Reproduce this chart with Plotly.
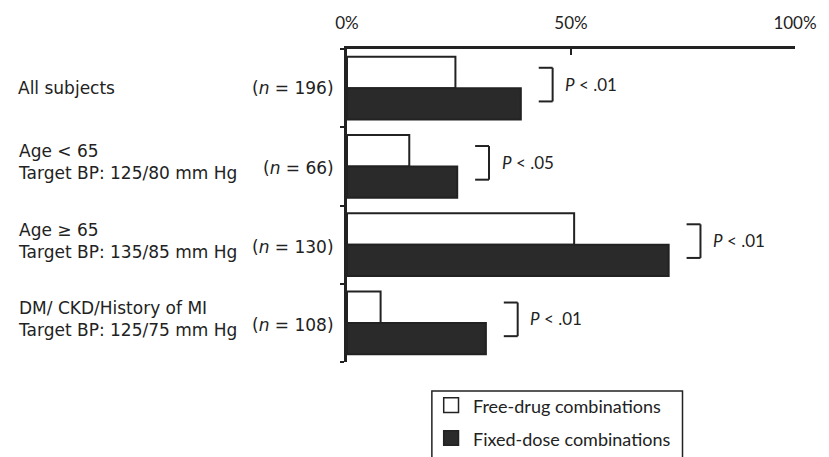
import plotly.graph_objects as go

# ---- data ----
groups = ["All subjects",
          "Age < 65<br>Target BP: 125/80 mm Hg",
          "Age ≥ 65<br>Target BP: 135/85 mm Hg",
          "DM/ CKD/History of MI<br>Target BP: 125/75 mm Hg"]
n_sizes = [196, 66, 130, 108]
free_drug = [24.2, 13.9, 50.7, 7.5]
fixed_dose = [38.8, 24.6, 71.8, 31.0]
p_values = ["P < .01", "P < .05", "P < .01", "P < .01"]
x_tickvals = [0, 50, 100]
x_ticktext = ["0%", "50%", "100%"]
series_names = ["Free-drug combinations", "Fixed-dose combinations"]

ypos = list(range(len(groups)))
INK = "#222222"
LEFT_FONT = "DejaVu Sans"
RIGHT_FONT = "Lato"

fig = go.Figure()
fig.add_trace(go.Bar(y=ypos, x=free_drug, orientation="h", name=series_names[0],
                     marker=dict(color="white", line=dict(color=INK, width=2)),
                     showlegend=False))
fig.add_trace(go.Bar(y=ypos, x=fixed_dose, orientation="h", name=series_names[1],
                     marker=dict(color="#2a2a2a", line=dict(color=INK, width=2)),
                     showlegend=False))

shapes = []
annotations = []
L, PW, T, PH = 347, 454, 39, 323


def px_x(x):
    return (x - L) / PW


def px_y(y):
    return (T + PH - y) / PH


for i, g in enumerate(groups):
    multi = "<br>" in g
    annotations.append(dict(x=px_x(12), xref="paper", y=i, yref="y", text=g,
                            xanchor="left", yanchor="middle", align="left",
                            showarrow=False, yshift=4 if multi else 0,
                            font=dict(family=LEFT_FONT, size=17, color=INK)))
    annotations.append(dict(x=px_x(336), xref="paper", y=i, yref="y",
                            text=f"(<i>n</i> = {n_sizes[i]})",
                            xanchor="right", yanchor="middle", showarrow=False,
                            yshift=-2 if multi else 0,
                            font=dict(family=LEFT_FONT, size=17, color=INK)))
    m = max(free_drug[i], fixed_dose[i])
    x0 = m + 4.0
    x1 = x0 + 3.1
    y0 = i - 0.26
    y1 = i + 0.17
    for (a, b, c, d) in [(x0, y0, x1, y0), (x1, y0, x1, y1), (x0, y1, x1, y1)]:
        shapes.append(dict(type="line", xref="x", yref="y", x0=a, y0=b, x1=c, y1=d,
                           line=dict(color=INK, width=2)))
    pv = p_values[i].replace("P", "<i>P</i>", 1)
    annotations.append(dict(x=x1 + 2.4, xref="x", y=i - 0.05, yref="y", text=pv,
                            xanchor="left", yanchor="middle", showarrow=False,
                            font=dict(family=RIGHT_FONT, size=17, color=INK)))

# legend box (manual)
shapes.append(dict(type="rect", xref="paper", yref="paper",
                   x0=px_x(433), x1=px_x(687), y0=px_y(392), y1=px_y(480),
                   line=dict(color=INK, width=1.5), fillcolor="rgba(0,0,0,0)"))
shapes.append(dict(type="rect", xref="paper", yref="paper",
                   x0=px_x(445), x1=px_x(460), y0=px_y(399), y1=px_y(414),
                   line=dict(color=INK, width=1.5), fillcolor="white"))
shapes.append(dict(type="rect", xref="paper", yref="paper",
                   x0=px_x(445), x1=px_x(460), y0=px_y(433), y1=px_y(448),
                   line=dict(color=INK, width=1.5), fillcolor="#2a2a2a"))
for name, yc in zip(series_names, [407, 441]):
    annotations.append(dict(x=px_x(473), xref="paper", y=px_y(yc), yref="paper",
                            text=name, xanchor="left", yanchor="middle",
                            showarrow=False,
                            font=dict(family=RIGHT_FONT, size=18, color=INK)))

fig.update_layout(
    width=829, height=457,
    margin=dict(l=L, r=829 - L - PW, t=T, b=457 - T - PH),
    paper_bgcolor="white", plot_bgcolor="white",
    barmode="group", bargap=0.2, bargroupgap=0,
    shapes=shapes, annotations=annotations,
    xaxis=dict(side="top", range=[0, 100], tickvals=x_tickvals, ticktext=x_ticktext,
               ticks="inside", ticklen=6, tickwidth=2, tickcolor=INK,
               showline=True, linewidth=2.5, linecolor=INK, showgrid=False,
               zeroline=False, ticklabelstandoff=10,
               tickfont=dict(family=RIGHT_FONT, size=17, color=INK)),
    yaxis=dict(range=[3.5, -0.5], tickvals=[-0.5, 0.5, 1.5, 2.5, 3.5],
               showticklabels=False, ticks="outside", ticklen=4, tickwidth=2,
               tickcolor=INK, showline=True, linewidth=2.5, linecolor=INK,
               showgrid=False, zeroline=False),
)

fig.write_html("out.html", config={"displayModeBar": False},
               post_script="document.body.style.margin='0';document.body.style.overflow='hidden';")
